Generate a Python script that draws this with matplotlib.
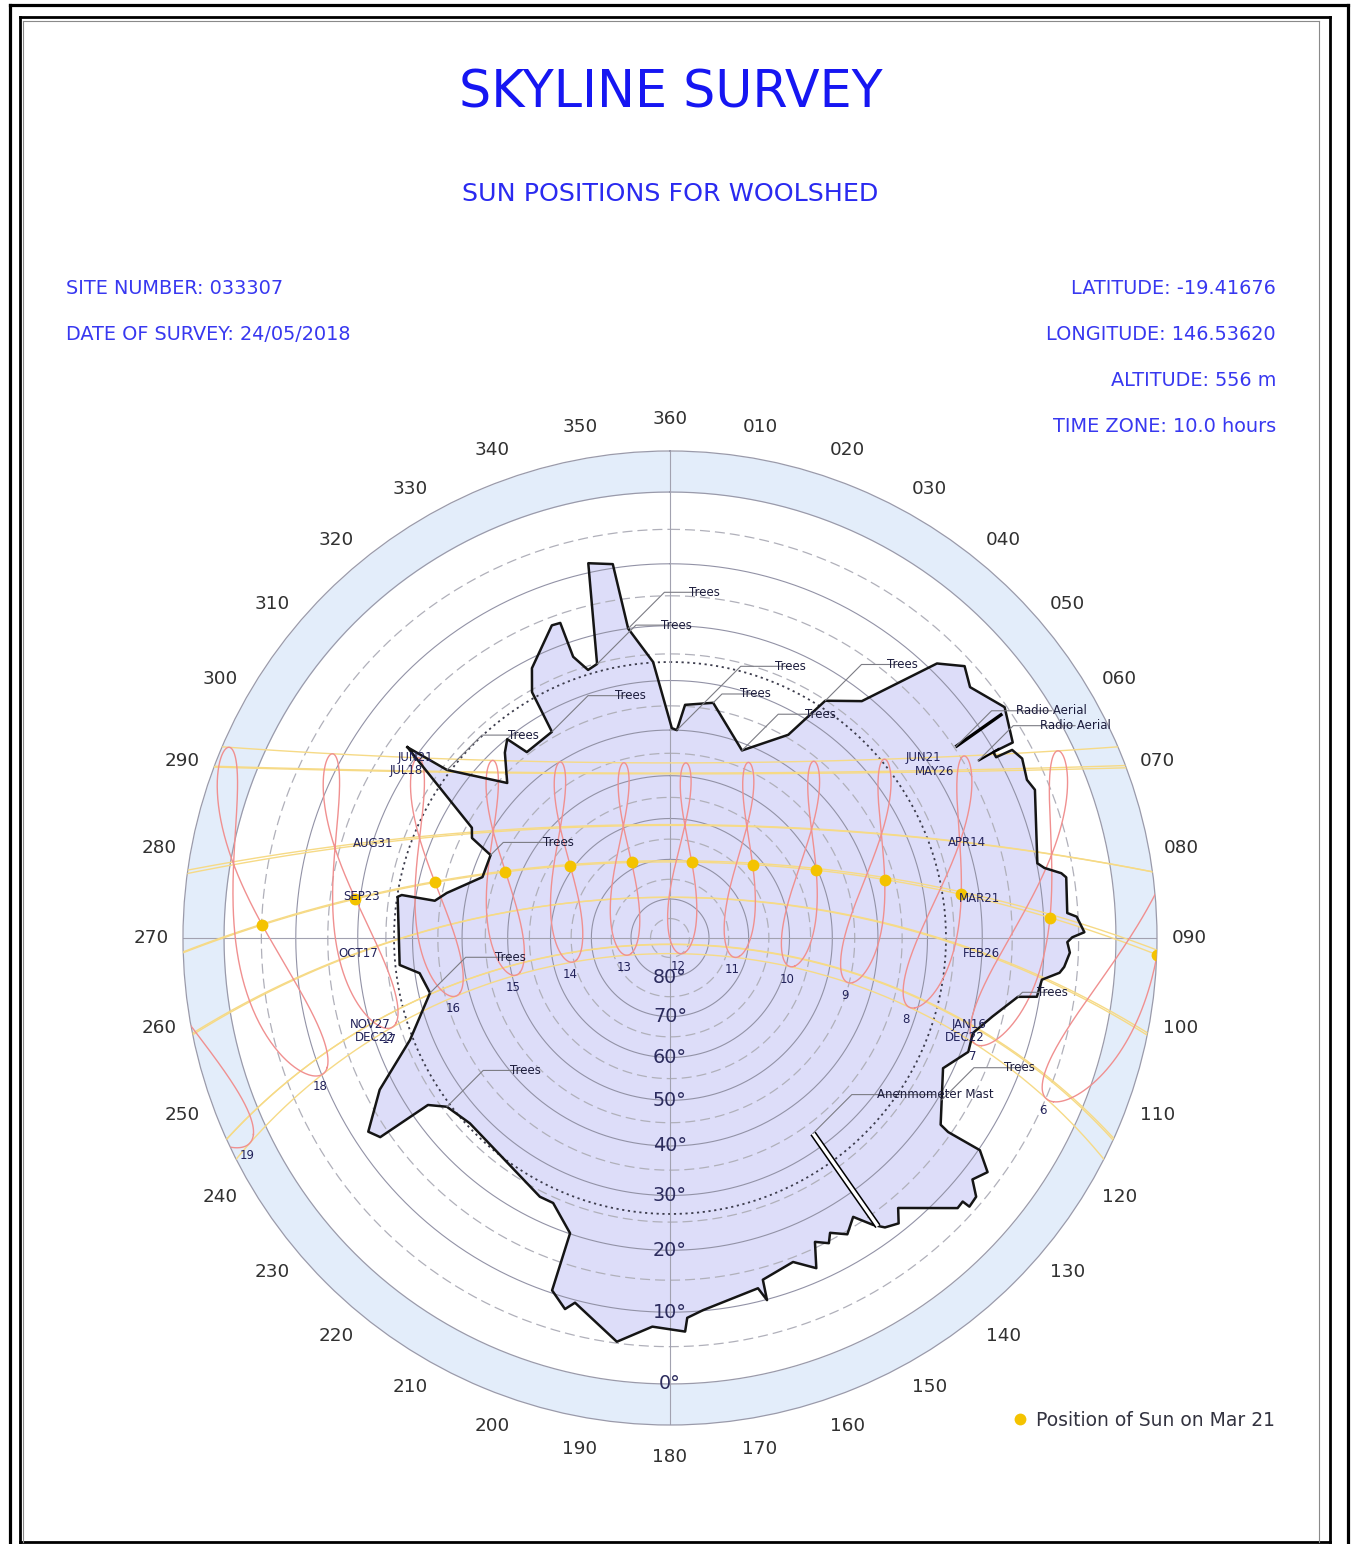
import numpy as np
import matplotlib.pyplot as plt
from matplotlib.lines import Line2D

# site details (as printed on the survey sheet)
site_number = "033307"
survey_date = "24/05/2018"
latitude = -19.41676
longitude = 146.53620
site_altitude = 556
time_zone = 10.0

# sun path dates (2018 day numbers)
path_names = ["JAN16", "FEB26", "MAR21", "APR14", "MAY26", "JUN21",
              "JUL18", "AUG31", "SEP23", "OCT17", "NOV27", "DEC22"]
path_doy = [16, 57, 80, 104, 146, 172, 199, 243, 266, 290, 331, 356]
morning_names = ["JAN16", "FEB26", "MAR21", "APR14", "MAY26", "JUN21", "DEC22"]
evening_names = ["JUN21", "JUL18", "AUG31", "SEP23", "OCT17", "NOV27", "DEC22"]

# clock hours drawn as analemmas, and the Mar 21 sun dots
hours = [6, 7, 8, 9, 10, 11, 12, 13, 14, 15, 16, 17, 18, 19]
dot_doy = 80

# skyline outline (azimuth deg, altitude deg)
skyline_az = [306.0, 307.0, 313.6, 318.3, 320.7, 322.4, 330.2, 330.7, 332.9, 339.3,
              340.8, 341.0, 343.0, 345.1, 347.7, 351.3, 352.3, 356.5, 0.5, 1.9,
              3.7, 10.4, 21.0, 30.2, 33.2, 39.0, 44.2, 47.3, 50.1, 55.4,
              60.3, 60.1, 61.0, 61.2, 63.0, 66.1, 67.9, 78.5, 79.4, 80.6,
              81.3, 86.4, 87.0, 89.2, 89.9, 90.6, 92.1, 94.2, 95.1, 96.4,
              99.1, 99.6, 103.7, 107.4, 110.9, 115.5, 124.6, 124.9, 124.4, 126.4,
              128.6, 130.2, 131.9, 132.0, 133.2, 139.8, 141.3, 143.4, 144.7, 146.7,
              149.1, 151.5, 152.5, 154.5, 156.1, 159.2, 164.8, 165.0, 165.9, 174.9,
              177.4, 177.8, 182.6, 187.5, 194.6, 195.8, 198.5, 198.7, 203.8, 206.7,
              227.2, 232.9, 235.4, 235.5, 237.3, 242.4, 248.6, 257.1, 262.0, 264.3,
              278.6, 279.1, 279.0, 281.4, 288.0, 294.8, 296.8, 299.1]
skyline_alt = [17.9, 25.9, 36.5, 31.8, 30.1, 34.5, 33.9, 25.4, 21.6, 16.3,
               16.4, 22.6, 25.7, 25.1, 8.6, 9.4, 20.0, 26.4, 39.6, 40.0,
               34.7, 33.6, 41.5, 34.4, 25.1, 21.3, 8.7, 6.1, 7.5, 5.3,
               7.0, 10.2, 10.2, 7.6, 6.9, 7.6, 7.1, 9.9, 9.0, 6.7,
               6.1, 6.5, 5.2, 4.2, 5.9, 6.6, 6.2, 6.9, 7.5, 10.0,
               10.4, 13.3, 16.7, 19.1, 18.8, 21.7, 17.2, 15.5, 9.8, 7.0,
               8.1, 6.1, 5.9, 7.1, 7.0, 13.2, 11.3, 12.1, 13.5, 16.4,
               14.5, 16.1, 14.7, 15.9, 12.0, 14.3, 13.1, 9.9, 12.0, 10.1,
               9.1, 7.1, 7.8, 5.2, 9.6, 8.3, 10.4, 20.1, 24.0, 24.0,
               27.1, 25.8, 23.2, 13.5, 12.4, 17.4, 25.9, 32.2, 30.9, 27.3,
               26.6, 27.3, 33.8, 35.9, 42.3, 42.2, 37.1, 36.1]

# skyline objects
aerial_az = [[56.2, 56.0], [60.1, 60.1]]
aerial_alt = [[14.8, 6.1], [12.9, 9.1]]
mast_az = [143.8, 144.2]
mast_alt = [33.0, 12.9]

# labelled skyline features: point on skyline, start of the label
note_text = ["Trees", "Trees", "Trees", "Trees", "Trees", "Trees", "Trees", "Trees",
             "Trees", "Trees", "Trees", "Trees", "Trees", "Anenmometer Mast",
             "Radio Aerial", "Radio Aerial"]
note_az = [352.3, 345.1, 1.9, 10.4, 33.2, 21.0, 330.2, 307.0,
           294.8, 257.1, 232.9, 99.6, 120.8, 143.8, 56.2, 60.1]
note_alt = [20.0, 25.1, 40.0, 33.6, 25.1, 41.5, 33.9, 25.9,
            42.2, 32.2, 25.8, 13.3, 19.3, 33.0, 14.8, 12.9]
label_az = [3.2, 358.3, 21.6, 16.5, 39.1, 31.9, 346.9, 320.4,
            305.0, 261.6, 229.0, 99.4, 112.2, 128.2, 57.5, 60.9]
label_alt = [15.4, 21.0, 24.8, 31.9, 14.7, 30.3, 33.0, 30.5,
             51.6, 46.8, 39.2, 10.3, 12.1, 28.8, 4.7, 3.0]

W, H = 1355, 1544
R_OUT = 1.092
YELLOW = "#F6DA86"
RED = "#F09090"
GOLD = "#F4C300"
NAVY = "#22225A"
BLUE_TXT = "#3838F0"


def sun_pos(doy, clock):
    doy = np.asarray(doy, float)
    clock = np.asarray(clock, float)
    g = 2 * np.pi / 365 * (doy - 1 + (clock - 12) / 24)
    eqt = 229.18 * (0.000075 + 0.001868 * np.cos(g) - 0.032077 * np.sin(g)
                    - 0.014615 * np.cos(2 * g) - 0.040849 * np.sin(2 * g))
    dec = (0.006918 - 0.399912 * np.cos(g) + 0.070257 * np.sin(g)
           - 0.006758 * np.cos(2 * g) + 0.000907 * np.sin(2 * g)
           - 0.002697 * np.cos(3 * g) + 0.00148 * np.sin(3 * g))
    tst = clock * 60 + eqt + 4 * longitude - 60 * time_zone
    ha = np.radians(tst / 4 - 180)
    lat = np.radians(latitude)
    s = np.sin(lat) * np.sin(dec) + np.cos(lat) * np.cos(dec) * np.cos(ha)
    alt = np.degrees(np.arcsin(np.clip(s, -1, 1)))
    az = np.degrees(np.arctan2(np.sin(ha), np.cos(ha) * np.sin(lat) - np.tan(dec) * np.cos(lat))) + 180
    return az % 360, alt


def proj(alt):
    # stereographic: horizon at r = 1
    return np.tan(np.radians(90 - np.asarray(alt, float)) / 2)


fig = plt.figure(figsize=(W / 100, H / 100), dpi=100)


def fx(x):
    return x / W


def fy(y):
    return 1 - y / H


# page frame
for xs, ys, lw, c in [([10, 10], [5, 1560], 2.3, "black"), ([10, 1348], [5, 5], 2.3, "black"),
                      ([1348, 1348], [5, 1560], 2.3, "black"),
                      ([20, 20], [17, 1542], 2.0, "black"), ([20, 1330], [17, 17], 2.0, "black"),
                      ([1330, 1330], [17, 1542], 2.0, "black"), ([20, 1330], [1542, 1542], 2.0, "black"),
                      ([23, 23], [21, 1542], 0.8, "#8a8a8a"), ([23, 1319], [21, 21], 0.8, "#8a8a8a"),
                      ([1319, 1319], [21, 1542], 0.8, "#8a8a8a")]:
    fig.add_artist(Line2D([fx(v) for v in xs], [fy(v) for v in ys], lw=lw, color=c))

fig.text(fx(671), fy(94), "SKYLINE SURVEY", ha="center", va="center", fontsize=36.5, color="#1616F2")
fig.text(fx(670), fy(194), "SUN POSITIONS FOR WOOLSHED", ha="center", va="center", fontsize=18.3, color="#2A2AF0")
fig.text(fx(66), fy(288), f"SITE NUMBER: {site_number}", ha="left", va="center", fontsize=13.9, color=BLUE_TXT)
fig.text(fx(66), fy(334), f"DATE OF SURVEY: {survey_date}", ha="left", va="center", fontsize=13.9, color=BLUE_TXT)
fig.text(fx(1276), fy(288), f"LATITUDE: {latitude:.5f}", ha="right", va="center", fontsize=13.9, color=BLUE_TXT)
fig.text(fx(1276), fy(334), f"LONGITUDE: {longitude:.5f}", ha="right", va="center", fontsize=13.9, color=BLUE_TXT)
fig.text(fx(1276), fy(381), f"ALTITUDE: {site_altitude} m", ha="right", va="center", fontsize=13.9, color=BLUE_TXT)
fig.text(fx(1276), fy(427), f"TIME ZONE: {time_zone:.1f} hours", ha="right", va="center", fontsize=13.9, color=BLUE_TXT)

ax = fig.add_axes([fx(670 - 487), fy(938 + 487), 974 / W, 974 / H], projection="polar")
ax.set_theta_zero_location("N")
ax.set_theta_direction(-1)
ax.set_ylim(0, R_OUT)
ax.set_xticks([])
ax.set_yticks([])
ax.grid(False)
ax.spines["polar"].set_edgecolor("#9a9aaa")
ax.spines["polar"].set_linewidth(0.9)

th = np.linspace(0, 2 * np.pi, 721)
ax.fill_between(th, 1.0, R_OUT, color="#E3EDFA", lw=0, zorder=0.5)
ax.plot(th, np.full_like(th, 1.0), color="#9a9aaa", lw=0.9, zorder=2)

# skyline fill
sk_th = np.radians(skyline_az)
sk_r = proj(skyline_alt)
ax.fill(sk_th, sk_r, facecolor="#DDDDF9", edgecolor="none", zorder=1)

# altitude rings
for a in range(10, 90, 10):
    ax.plot(th, np.full_like(th, proj(a)), color="#9292a6", lw=0.8, zorder=2)
for a in range(5, 90, 10):
    ax.plot(th, np.full_like(th, proj(a)), color="#b0b0ba", lw=0.9, dashes=(8, 4), zorder=2)
ax.plot(th, np.full_like(th, proj(26.5)), color="#3c3c4c", lw=1.3, dashes=(1.2, 2.0), zorder=2)
for a in [0, 90]:
    t = np.radians(a)
    ax.plot([t, t], [0, R_OUT], color="#a2a2b0", lw=0.8, zorder=2)
    ax.plot([t + np.pi, t + np.pi], [0, R_OUT], color="#a2a2b0", lw=0.8, zorder=2)

# sun paths for the dates
day_clock = np.arange(0, 24 * 60 + 1, 2) / 60
for doy in path_doy:
    az, alt = sun_pos(doy, day_clock)
    alt = np.where(alt > -15, alt, np.nan)
    ax.plot(np.radians(az), proj(alt), color=YELLOW, lw=1.0, zorder=3)

# analemmas
days = np.arange(1, 367)
for h in hours:
    az, alt = sun_pos(days, np.full(days.shape, h))
    az = np.append(az, az[0])
    alt = np.append(alt, alt[0])
    alt = np.where(alt > -15, alt, np.nan)
    ax.plot(np.radians(az), proj(alt), color=RED, lw=1.0, zorder=3)

# skyline outline and objects
ax.plot(np.append(sk_th, sk_th[0]), np.append(sk_r, sk_r[0]), color="#151515", lw=1.8, zorder=5)
for a_az, a_alt, lw in zip(aerial_az, aerial_alt, [2.4, 1.6]):
    ax.plot(np.radians(a_az), proj(a_alt), color="black", lw=lw, zorder=5, solid_capstyle="butt")
ax.plot(np.radians(mast_az), proj(mast_alt), color="black", lw=4.6, zorder=5, solid_capstyle="butt")
ax.plot(np.radians(mast_az), proj(mast_alt), color="white", lw=2.4, zorder=5.1, solid_capstyle="butt")

# Mar 21 sun positions
d_az, d_alt = sun_pos(dot_doy, np.array(hours, float))
ax.plot(np.radians(d_az), proj(d_alt), "o", color=GOLD, ms=8.5, mec="none", zorder=6)

# hour labels under each analemma (Dec 22 end)
h_az, h_alt = sun_pos(356, np.array(hours, float))
for h, a, e in zip(hours, h_az, h_alt):
    ax.annotate(str(h), (np.radians(a), proj(e)), xytext=(-2, -9), textcoords="offset points",
                ha="center", va="center", fontsize=8.5, color=NAVY, zorder=7)

# date labels where each path reaches 20 degrees
mins = np.arange(0, 24 * 60) / 60
for name, doy in zip(path_names, path_doy):
    az, alt = sun_pos(doy, mins)
    up = np.where(alt >= 20)[0]
    if name in morning_names:
        i = up[0]
        ax.text(np.radians(az[i]), proj(alt[i]), name, ha="center", va="center", fontsize=8.5,
                color=NAVY, zorder=7)
    if name in evening_names:
        i = up[-1]
        ax.text(np.radians(az[i]), proj(alt[i]), name, ha="center", va="center", fontsize=8.5,
                color=NAVY, zorder=7)

# skyline notes
for t, pa, pe, la, le in zip(note_text, note_az, note_alt, label_az, label_alt):
    ax.annotate(t, (np.radians(pa), proj(pe)), xytext=(np.radians(la), proj(le)),
                ha="left", va="bottom", fontsize=8.5, color="#1c1c3c", zorder=7,
                arrowprops=dict(arrowstyle="-", color="#7c7c84", lw=0.8, shrinkA=0, shrinkB=0,
                                patchA=None, connectionstyle="angle,angleA=0,angleB=45,rad=0"))

# azimuth labels
for a in range(0, 360, 10):
    lab = "360" if a == 0 else f"{a:03d}"
    ax.text(np.radians(a), 519 / 446, lab, ha="center", va="center", fontsize=13.2,
            color="#303030", clip_on=False)

# altitude labels
for a in range(0, 90, 10):
    ax.text(np.pi, proj(a), f"{a}\u00b0", ha="center", va="center", fontsize=13.8,
            color="#2c2c5e", zorder=7)

dot = Line2D([], [], marker="o", ls="", color=GOLD, ms=8.5, mec="none")
fig.legend(handles=[dot], labels=["Position of Sun on Mar 21"], loc="center left",
           bbox_to_anchor=(fx(1012), fy(1420)), frameon=False, fontsize=13.5,
           handlelength=0.8, handletextpad=0.5, borderpad=0, borderaxespad=0,
           labelcolor="#333340")

fig.savefig("out.png", dpi=100)
